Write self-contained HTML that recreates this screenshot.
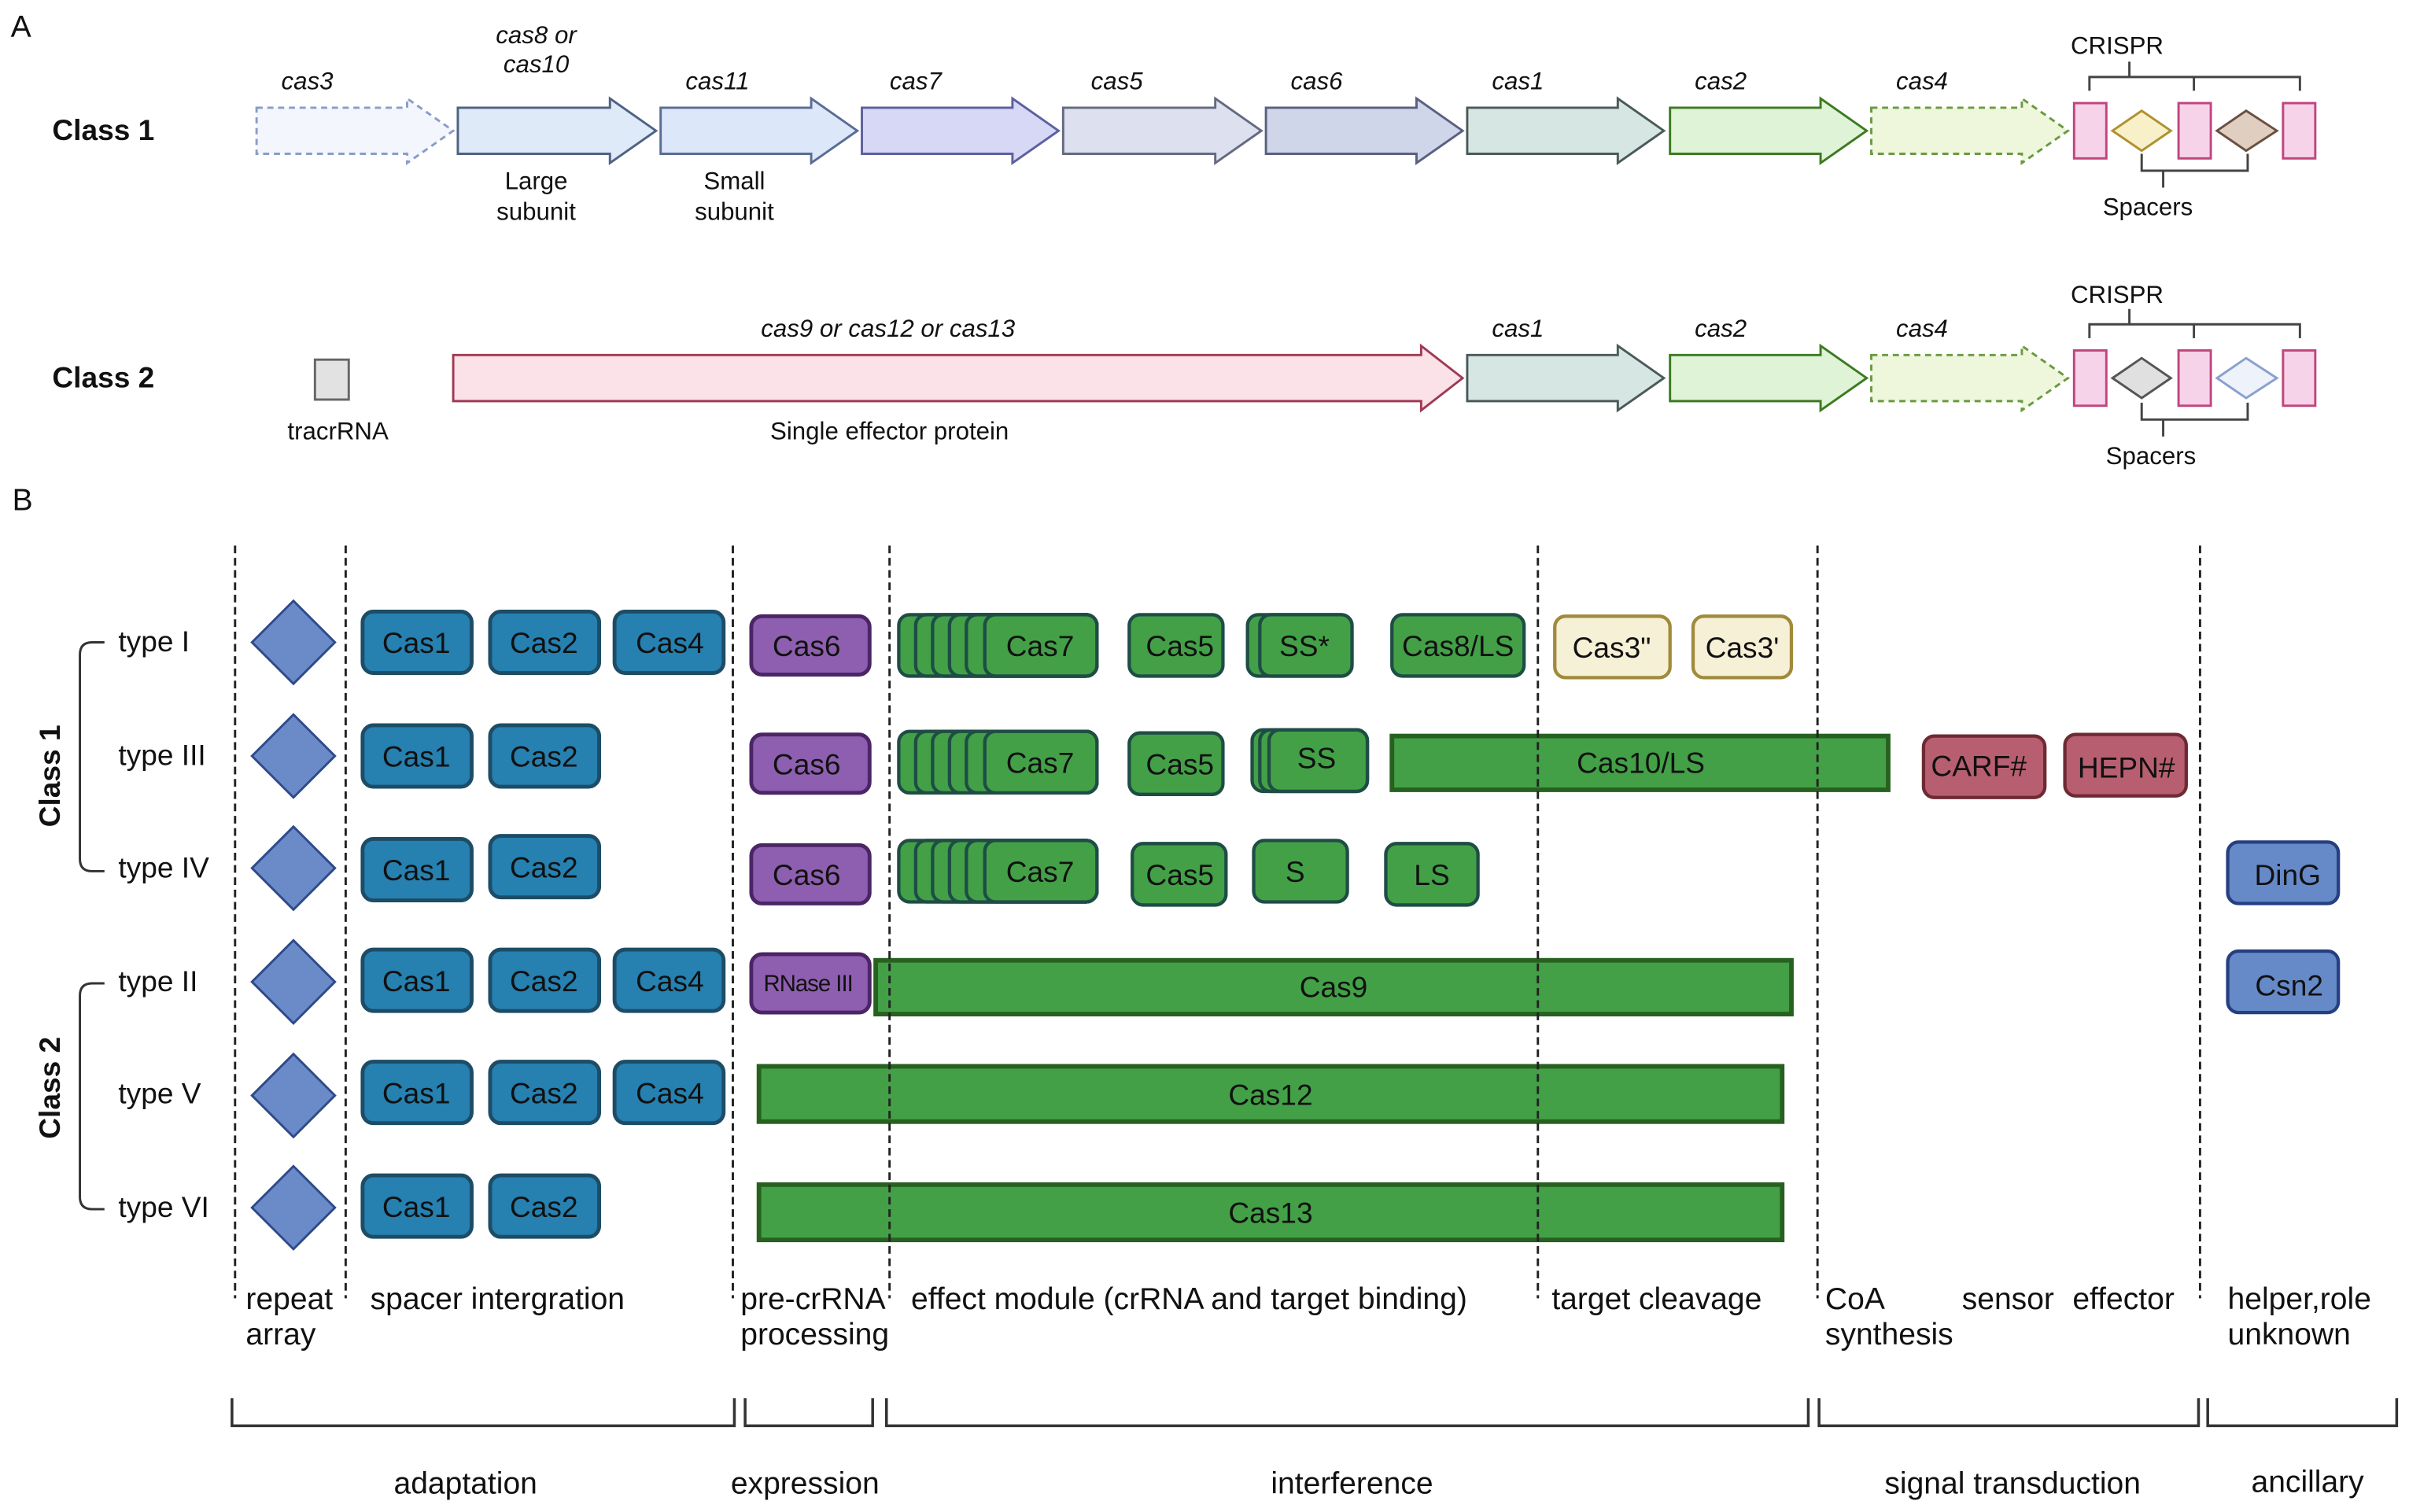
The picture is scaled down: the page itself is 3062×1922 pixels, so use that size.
<!DOCTYPE html>
<html><head><meta charset="utf-8"><style>
html,body{margin:0;padding:0;background:#fff}
svg{display:block}
text{font-family:"Liberation Sans",sans-serif;fill:#111}
.it{font-style:italic;font-size:16px}
.lb{font-size:16px}
.bx{font-size:19px}
.bt{font-size:20px}
</style></head><body>
<svg width="3062" height="1922" viewBox="0 0 1568 984" xmlns="http://www.w3.org/2000/svg">
<text x="7" y="24" font-size="20">A</text>
<text x="8" y="332" font-size="20">B</text>

<text x="34" y="91" font-size="19" font-weight="bold">Class 1</text>
<g stroke-width="1.5">
<path d="M167 70H265V64L295 85L265 106V100H167Z" fill="#f3f6fc" stroke="#8a9cc8" stroke-dasharray="4 3"/>
<path d="M298 70H397V64L427 85L397 106V100H298Z" fill="#deeaf8" stroke="#4f6284"/>
<path d="M430 70H528V64L558 85L528 106V100H430Z" fill="#dce8fa" stroke="#5a6c94"/>
<path d="M561 70H659V64L689 85L659 106V100H561Z" fill="#d6d8f6" stroke="#5c609e"/>
<path d="M692 70H791V64L821 85L791 106V100H692Z" fill="#dde1ef" stroke="#646a80"/>
<path d="M824 70H922V64L952 85L922 106V100H824Z" fill="#cfd6ea" stroke="#5a6080"/>
<path d="M955 70H1053V64L1083 85L1053 106V100H955Z" fill="#d6e6e2" stroke="#4a5a58"/>
<path d="M1087 70H1185V64L1215 85L1185 106V100H1087Z" fill="#dff3d6" stroke="#3c7a22"/>
<path d="M1218 70H1316V64L1346 85L1316 106V100H1218Z" fill="#eef6dc" stroke="#6a9a40" stroke-dasharray="4 3"/>
</g>
<g class="it" text-anchor="middle">
<text x="200" y="58">cas3</text>
<text x="349" y="28">cas8 or</text>
<text x="349" y="47">cas10</text>
<text x="467" y="58">cas11</text>
<text x="596" y="58">cas7</text>
<text x="727" y="58">cas5</text>
<text x="857" y="58">cas6</text>
<text x="988" y="58">cas1</text>
<text x="1120" y="58">cas2</text>
<text x="1251" y="58">cas4</text>
</g>
<g class="lb" text-anchor="middle">
<text x="349" y="123">Large</text><text x="349" y="143">subunit</text>
<text x="478" y="123">Small</text><text x="478" y="143">subunit</text>
</g>
<g stroke-width="1.5">
<rect x="1350" y="67" width="21" height="36" fill="#f6d3e8" stroke="#c0457f"/>
<rect x="1418" y="67" width="21" height="36" fill="#f6d3e8" stroke="#c0457f"/>
<rect x="1486" y="67" width="21" height="36" fill="#f6d3e8" stroke="#c0457f"/>
<path d="M1375 85L1394 72L1413 85L1394 98Z" fill="#f7f0c8" stroke="#b09030"/>
<path d="M1443 85L1462 72L1482 85L1462 98Z" fill="#e0cfc0" stroke="#6a5040"/>
</g>
<g stroke="#444" stroke-width="1.5" fill="none">
<path d="M1360 59V50H1497V59M1428 50V59M1386 50V40"/>
<path d="M1394 100V111H1463V100M1408 111V122"/>
</g>
<text x="1378" y="35" class="lb" text-anchor="middle">CRISPR</text>
<text x="1398" y="140" class="lb" text-anchor="middle">Spacers</text>

<text x="34" y="252" font-size="19" font-weight="bold">Class 2</text>
<rect x="205" y="234" width="22" height="26" fill="#e2e2e2" stroke="#666" stroke-width="1.5"/>
<text x="220" y="286" class="lb" text-anchor="middle">tracrRNA</text>
<g stroke-width="1.5">
<path d="M295 231H925V225L952 246L925 267V261H295Z" fill="#fbe2e8" stroke="#a03a54"/>
<path d="M955 231H1053V225L1083 246L1053 267V261H955Z" fill="#d6e6e2" stroke="#4a5a58"/>
<path d="M1087 231H1185V225L1215 246L1185 267V261H1087Z" fill="#dff3d6" stroke="#3c7a22"/>
<path d="M1218 231H1316V225L1346 246L1316 267V261H1218Z" fill="#eef6dc" stroke="#6a9a40" stroke-dasharray="4 3"/>
</g>
<g class="it" text-anchor="middle">
<text x="578" y="219">cas9 or cas12 or cas13</text>
<text x="988" y="219">cas1</text>
<text x="1120" y="219">cas2</text>
<text x="1251" y="219">cas4</text>
</g>
<text x="579" y="286" class="lb" text-anchor="middle">Single effector protein</text>
<g stroke-width="1.5">
<rect x="1350" y="228" width="21" height="36" fill="#f6d3e8" stroke="#c0457f"/>
<rect x="1418" y="228" width="21" height="36" fill="#f6d3e8" stroke="#c0457f"/>
<rect x="1486" y="228" width="21" height="36" fill="#f6d3e8" stroke="#c0457f"/>
<path d="M1375 246L1394 233L1413 246L1394 259Z" fill="#e0e0e0" stroke="#555"/>
<path d="M1443 246L1462 233L1482 246L1462 259Z" fill="#eef2fb" stroke="#8aa0d0"/>
</g>
<g stroke="#444" stroke-width="1.5" fill="none">
<path d="M1360 220V211H1497V220M1428 211V220M1386 211V201"/>
<path d="M1394 262V273H1463V262M1408 273V284"/>
</g>
<text x="1378" y="197" class="lb" text-anchor="middle">CRISPR</text>
<text x="1400" y="302" class="lb" text-anchor="middle">Spacers</text>

<g stroke="#333" stroke-width="1.5" fill="none">
<path d="M68 418H60Q52 418 52 426V559Q52 567 60 567H68"/>
<path d="M68 640H60Q52 640 52 648V779Q52 787 60 787H68"/>
</g>
<text transform="translate(39,505) rotate(-90)" font-size="19" font-weight="bold" text-anchor="middle">Class 1</text>
<text transform="translate(39,708) rotate(-90)" font-size="19" font-weight="bold" text-anchor="middle">Class 2</text>
<g font-size="19">
<text x="77" y="424">type I</text>
<text x="77" y="498">type III</text>
<text x="77" y="571">type IV</text>
<text x="77" y="645">type II</text>
<text x="77" y="718">type V</text>
<text x="77" y="792">type VI</text>
</g>

<g fill="#6a8bc8" stroke="#2e4a8a" stroke-width="1.5">
<path d="M164 418L191 391L218 418L191 445Z"/>
<path d="M164 492L191 465L218 492L191 519Z"/>
<path d="M164 565L191 538L218 565L191 592Z"/>
<path d="M164 639L191 612L218 639L191 666Z"/>
<path d="M164 713L191 686L218 713L191 740Z"/>
<path d="M164 786L191 759L218 786L191 813Z"/>
</g>

<g fill="#2680b0" stroke="#1d4d66" stroke-width="2.5">
<rect x="236" y="398" width="71" height="40" rx="7"/><rect x="319" y="398" width="71" height="40" rx="7"/><rect x="400" y="398" width="71" height="40" rx="7"/>
<rect x="236" y="472" width="71" height="40" rx="7"/><rect x="319" y="472" width="71" height="40" rx="7"/>
<rect x="236" y="546" width="71" height="40" rx="7"/><rect x="319" y="544" width="71" height="40" rx="7"/>
<rect x="236" y="618" width="71" height="40" rx="7"/><rect x="319" y="618" width="71" height="40" rx="7"/><rect x="400" y="618" width="71" height="40" rx="7"/>
<rect x="236" y="691" width="71" height="40" rx="7"/><rect x="319" y="691" width="71" height="40" rx="7"/><rect x="400" y="691" width="71" height="40" rx="7"/>
<rect x="236" y="765" width="71" height="40" rx="7"/><rect x="319" y="765" width="71" height="40" rx="7"/>
</g>
<g class="bx" text-anchor="middle">
<text x="271" y="425">Cas1</text><text x="354" y="425">Cas2</text><text x="436" y="425">Cas4</text>
<text x="271" y="499">Cas1</text><text x="354" y="499">Cas2</text>
<text x="271" y="573">Cas1</text><text x="354" y="571">Cas2</text>
<text x="271" y="645">Cas1</text><text x="354" y="645">Cas2</text><text x="436" y="645">Cas4</text>
<text x="271" y="718">Cas1</text><text x="354" y="718">Cas2</text><text x="436" y="718">Cas4</text>
<text x="271" y="792">Cas1</text><text x="354" y="792">Cas2</text>
</g>

<g fill="#8e5fb0" stroke="#4b2566" stroke-width="2.5">
<rect x="489" y="401" width="77" height="38" rx="7"/>
<rect x="489" y="478" width="77" height="38" rx="7"/>
<rect x="489" y="550" width="77" height="38" rx="7"/>
<rect x="489" y="621" width="77" height="38" rx="7"/>
</g>
<g class="bx" text-anchor="middle">
<text x="525" y="427">Cas6</text><text x="525" y="504">Cas6</text><text x="525" y="576">Cas6</text>
<text x="526" y="645" font-size="15" letter-spacing="-0.5">RNase III</text>
</g>

<g fill="#43a047" stroke="#1e4d45" stroke-width="2.2">
<rect x="585" y="400" width="129" height="40" rx="7"/><rect x="596" y="400" width="118" height="40" rx="7"/><rect x="607" y="400" width="107" height="40" rx="7"/><rect x="618" y="400" width="96" height="40" rx="7"/><rect x="629" y="400" width="85" height="40" rx="7"/><rect x="641" y="400" width="73" height="40" rx="7"/>
<rect x="585" y="476" width="129" height="40" rx="7"/><rect x="596" y="476" width="118" height="40" rx="7"/><rect x="607" y="476" width="107" height="40" rx="7"/><rect x="618" y="476" width="96" height="40" rx="7"/><rect x="629" y="476" width="85" height="40" rx="7"/><rect x="641" y="476" width="73" height="40" rx="7"/>
<rect x="585" y="547" width="129" height="40" rx="7"/><rect x="596" y="547" width="118" height="40" rx="7"/><rect x="607" y="547" width="107" height="40" rx="7"/><rect x="618" y="547" width="96" height="40" rx="7"/><rect x="629" y="547" width="85" height="40" rx="7"/><rect x="641" y="547" width="73" height="40" rx="7"/>
<rect x="735" y="400" width="61" height="40" rx="7"/>
<rect x="735" y="477" width="61" height="40" rx="7"/>
<rect x="737" y="549" width="61" height="40" rx="7"/>
<rect x="812" y="400" width="68" height="40" rx="7"/><rect x="820" y="400" width="60" height="40" rx="7"/>
<rect x="815" y="475" width="75" height="40" rx="7"/><rect x="820" y="475" width="70" height="40" rx="7"/><rect x="826" y="475" width="64" height="40" rx="7"/>
<rect x="816" y="547" width="61" height="40" rx="7"/>
<rect x="902" y="549" width="60" height="40" rx="7"/>
<rect x="906" y="400" width="86" height="40" rx="7"/>
</g>
<g fill="#43a047" stroke="#27611f" stroke-width="3">
<rect x="906" y="479" width="323" height="35"/>
<rect x="570" y="625" width="596" height="35"/>
<rect x="494" y="694" width="666" height="36"/>
<rect x="494" y="771" width="666" height="36"/>
</g>
<g class="bx" text-anchor="middle">
<text x="677" y="427">Cas7</text><text x="677" y="503">Cas7</text><text x="677" y="574">Cas7</text>
<text x="768" y="427">Cas5</text><text x="768" y="504">Cas5</text><text x="768" y="576">Cas5</text>
<text x="849" y="427">SS*</text><text x="857" y="500">SS</text><text x="843" y="574">S</text><text x="932" y="576">LS</text>
<text x="949" y="427">Cas8/LS</text>
<text x="1068" y="503">Cas10/LS</text>
<text x="868" y="649">Cas9</text>
<text x="827" y="719">Cas12</text>
<text x="827" y="796">Cas13</text>
</g>

<g fill="#f5f0d6" stroke="#a08a3c" stroke-width="2.2">
<rect x="1012" y="401" width="75" height="40" rx="7"/>
<rect x="1102" y="401" width="64" height="40" rx="7"/>
</g>
<g class="bx" text-anchor="middle"><text x="1049" y="428">Cas3"</text><text x="1134" y="428">Cas3'</text></g>

<g fill="#b75f70" stroke="#6e2a33" stroke-width="2.2">
<rect x="1252" y="479" width="79" height="40" rx="7"/>
<rect x="1344" y="478" width="79" height="40" rx="7"/>
</g>
<g class="bx" text-anchor="middle"><text x="1288" y="505">CARF#</text><text x="1384" y="506">HEPN#</text></g>

<g fill="#6689c8" stroke="#263f80" stroke-width="2.2">
<rect x="1450" y="548" width="72" height="40" rx="7"/>
<rect x="1450" y="619" width="72" height="40" rx="7"/>
</g>
<g class="bx" text-anchor="middle"><text x="1489" y="576">DinG</text><text x="1490" y="648">Csn2</text></g>

<g stroke="#222" stroke-width="1.5" stroke-dasharray="5 3">
<line x1="153" y1="355" x2="153" y2="845"/>
<line x1="225" y1="355" x2="225" y2="845"/>
<line x1="477" y1="355" x2="477" y2="845"/>
<line x1="579" y1="355" x2="579" y2="845"/>
<line x1="1001" y1="355" x2="1001" y2="845"/>
<line x1="1183" y1="355" x2="1183" y2="845"/>
<line x1="1432" y1="355" x2="1432" y2="845"/>
</g>

<g class="bt">
<text x="160" y="852">repeat</text><text x="160" y="875">array</text>
<text x="241" y="852">spacer intergration</text>
<text x="482" y="852">pre-crRNA</text><text x="482" y="875">processing</text>
<text x="593" y="852">effect module (crRNA and target binding)</text>
<text x="1010" y="852">target cleavage</text>
<text x="1188" y="852">CoA</text><text x="1188" y="875">synthesis</text>
<text x="1277" y="852">sensor</text>
<text x="1349" y="852">effector</text>
<text x="1450" y="852">helper,role</text><text x="1450" y="875">unknown</text>
</g>
<g stroke="#333" stroke-width="1.8" fill="none">
<path d="M151 910V928H478V910"/>
<path d="M485 910V928H568V910"/>
<path d="M577 910V928H1177V910"/>
<path d="M1184 910V928H1431V910"/>
<path d="M1437 910V928H1560V910"/>
</g>
<g class="bt" text-anchor="middle">
<text x="303" y="972">adaptation</text>
<text x="524" y="972">expression</text>
<text x="880" y="972">interference</text>
<text x="1310" y="972">signal transduction</text>
<text x="1502" y="971">ancillary</text>
</g>
</svg>
</body></html>
